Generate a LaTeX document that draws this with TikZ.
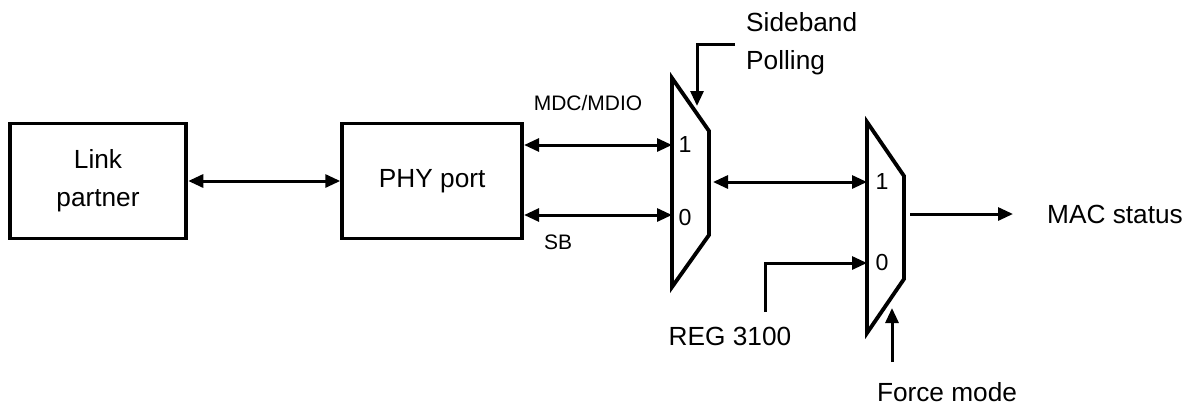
\documentclass[tikz,border=0pt]{standalone}
\usepackage{fontspec}
\setmainfont{Liberation Sans}
\usetikzlibrary{positioning,arrows.meta,calc}

\newcommand{\bigtxt}{\fontsize{22.4}{32.3}\selectfont}
\newcommand{\smalltxt}{\fontsize{17.9}{22}\selectfont}
\newcommand{\digtxt}{\fontsize{19.8}{22}\selectfont}

\begin{document}
\begin{tikzpicture}[
  x=0.3mm, y=-0.3mm,
  node distance=45.6mm,
  >={Triangle[length=4.5mm,width=3.9mm]},
  box/.style={draw, line width=1.15mm, align=center, minimum width=53mm,
              minimum height=34.5mm, inner sep=0pt, font=\bigtxt},
  mux/.style={draw, line width=1.15mm, line join=miter},
  arr/.style={->, line width=0.9mm},
  biarr/.style={<->, line width=0.9mm},
  lbl/.style={inner sep=0pt, font=\bigtxt},
  sig/.style={inner sep=0pt, font=\smalltxt},
  dig/.style={inner sep=0pt, font=\digtxt}
]
\useasboundingbox (0,0) rectangle (1185,405);

% boxes
\node[box] (lp) at (98,181) {Link\\partner};
\node[box, minimum width=54mm, right=of lp] (phy) {PHY port};

% muxes
\draw[mux] (672,78) -- (709,131) -- (709,235) -- (672,287) -- cycle;
\draw[mux] (867,122) -- (904,176) -- (904,279) -- (867,333) -- cycle;
\coordinate (m1a) at (672,145);
\coordinate (m1b) at (672,215);
\coordinate (m1out) at (713,182);
\coordinate (m1sel) at (697,106);
\coordinate (m2a) at (867,182);
\coordinate (m2b) at (867,263);
\coordinate (m2out) at (910,214);
\coordinate (m2sel) at (892,308);
\node[dig] (m1one) at (685,145) {1};
\node[dig] (m1zero) at (685,218) {0};
\node[dig] (m2one) at (882,182) {1};
\node[dig] (m2zero) at (882,263) {0};

% labels
\node[sig] (mdc) at (588,103) {MDC/MDIO};
\node[sig] (sb) at (558,242) {SB};
\node[lbl, align=left, anchor=west] (sbp) at (746,44) {Sideband\\Polling};
\node[lbl, anchor=west] (mac) at (1047,214) {MAC status};
\node[lbl] (reg) at (730,336) {REG 3100};
\node[lbl] (force) at (947,392) {Force mode};
\coordinate (regend) at (765,312);
\coordinate (fmend) at (892,362);
\coordinate (macend) at (1013,214);

\draw[biarr] (lp) -- (phy);
\draw[biarr] (m1a -| phy.east) -- (m1a);
\draw[biarr] (m1b -| phy.east) -- (m1b);
\draw[biarr] (m1out) -- (m2a);
\draw[arr] (m2out) -- (macend);
\draw[arr] (regend) |- (m2b);
\draw[arr] ([xshift=-3.3mm]sbp.west) -| (m1sel);
\draw[arr] (fmend) -- (m2sel);
\end{tikzpicture}
\end{document}
